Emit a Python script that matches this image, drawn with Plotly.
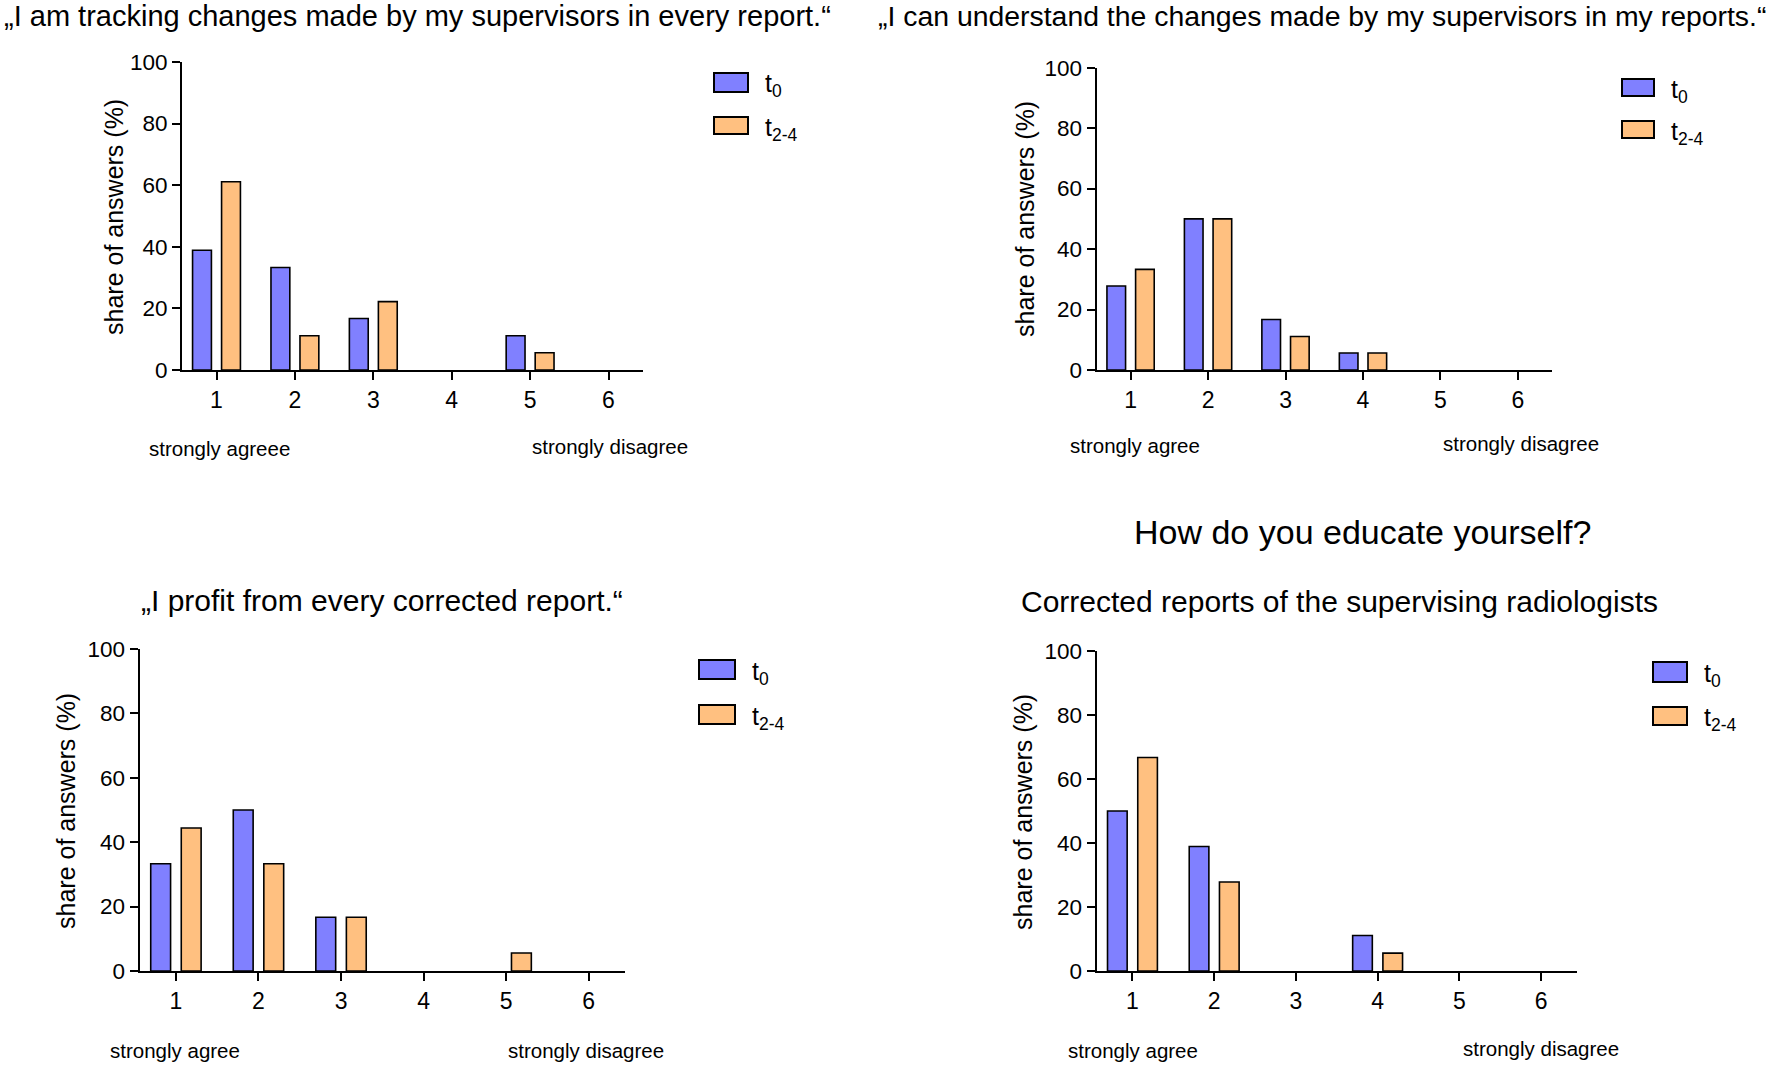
import plotly.graph_objects as go

# ---------------- data ----------------
categories = [1, 2, 3, 4, 5, 6]
y_ticks = [0, 20, 40, 60, 80, 100]
series_names = ["t<sub>0</sub>", "t<sub>2-4</sub>"]
series_colors = ["#8080FF", "#FFC080"]

titles = [
    "„I am tracking changes made by my supervisors in every report.“",
    "„I can understand the changes made by my supervisors in my reports.“",
    "„I profit from every corrected report.“",
    "Corrected reports of the supervising radiologists",
]
super_title = "How do you educate yourself?"
y_title = "share of answers (%)"
left_labels = ["strongly agreee", "strongly agree", "strongly agree", "strongly agree"]
right_label = "strongly disagree"

t0_tracking = [38.9, 33.3, 16.7, 0, 11.1, 0]
t24_tracking = [61.1, 11.1, 22.2, 0, 5.6, 0]
t0_understand = [27.8, 50.0, 16.7, 5.6, 0, 0]
t24_understand = [33.3, 50.0, 11.1, 5.6, 0, 0]
t0_profit = [33.3, 50.0, 16.7, 0, 0, 0]
t24_profit = [44.4, 33.3, 16.7, 0, 5.6, 0]
t0_corrected = [50.0, 38.9, 0, 11.1, 0, 0]
t24_corrected = [66.7, 27.8, 0, 5.6, 0, 0]

panel_data = [
    (t0_tracking, t24_tracking),
    (t0_understand, t24_understand),
    (t0_profit, t24_profit),
    (t0_corrected, t24_corrected),
]

# ---------------- layout (pixel positions) ----------------
W, H = 1769, 1066
FONT = "Liberation Sans, Arial, Helvetica, sans-serif"


def px(x):
    return x / W


def py(y):
    return 1 - y / H


panels = [
    dict(ax=(182, 643), ay=(62, 370), title=(417, 16), tsize=29, ytitle=(114, 217),
         left=(147, 448), right=(530, 446), leg=(714, 748, 73, 92, 117, 134)),
    dict(ax=(1096.5, 1552), ay=(67.7, 370), title=(1322, 16), tsize=28.4, ytitle=(1025, 219),
         left=(1068, 445), right=(1441, 443), leg=(1622, 1654, 79, 96, 121, 138)),
    dict(ax=(139.6, 625), ay=(649, 971), title=(382, 600), tsize=30, ytitle=(66, 811),
         left=(108, 1050), right=(506, 1050), leg=(699, 735, 660, 679, 705, 724)),
    dict(ax=(1096.5, 1577), ay=(651, 971), title=(1339, 601), tsize=30, ytitle=(1023, 812),
         left=(1066, 1050), right=(1461, 1048), leg=(1653, 1687, 662, 682, 707, 725)),
]

fig = go.Figure()
annotations = []
shapes = []
layout_axes = {}

for i, (p, (s0, s1)) in enumerate(zip(panels, panel_data)):
    n = "" if i == 0 else str(i + 1)
    xa, ya = "x" + n, "y" + n
    for name, vals, col in zip(series_names, (s0, s1), series_colors):
        fig.add_trace(go.Bar(
            x=categories, y=vals, name=name, xaxis=xa, yaxis=ya,
            marker=dict(color=col, line=dict(
                color="black", width=[1.6 if v > 0 else 0 for v in vals])),
            showlegend=False, hoverinfo="x+y",
        ))
    layout_axes["xaxis" + n] = dict(
        domain=[px(p["ax"][0]), px(p["ax"][1])], anchor=ya,
        range=[0.56, 6.44], tickmode="array", tickvals=categories,
        ticks="outside", ticklen=8, tickwidth=2, tickcolor="black",
        showline=True, linecolor="black", linewidth=2,
        showgrid=False, zeroline=False, fixedrange=True, automargin=False,
        tickfont=dict(family=FONT, size=23, color="black"),
    )
    layout_axes["yaxis" + n] = dict(
        domain=[py(p["ay"][1]), py(p["ay"][0])], anchor=xa,
        range=[0, 100], tickmode="array", tickvals=y_ticks,
        ticks="outside", ticklen=8, tickwidth=2, tickcolor="black",
        showline=True, linecolor="black", linewidth=2,
        showgrid=False, zeroline=False, fixedrange=True, automargin=False,
        tickfont=dict(family=FONT, size=22.5, color="black"),
    )
    # panel title
    annotations.append(dict(
        text=titles[i], x=px(p["title"][0]), y=py(p["title"][1]),
        xref="paper", yref="paper", xanchor="center", yanchor="middle",
        showarrow=False, font=dict(family=FONT, size=p["tsize"], color="black")))
    # y-axis title
    annotations.append(dict(
        text=y_title, x=px(p["ytitle"][0]), y=py(p["ytitle"][1]),
        xref="paper", yref="paper", xanchor="center", yanchor="middle",
        textangle=-90, showarrow=False,
        font=dict(family=FONT, size=25, color="black")))
    # scale end labels
    annotations.append(dict(
        text=left_labels[i], x=px(p["left"][0]), y=py(p["left"][1]),
        xref="paper", yref="paper", xanchor="left", yanchor="middle",
        showarrow=False, font=dict(family=FONT, size=20.5, color="black")))
    annotations.append(dict(
        text=right_label, x=px(p["right"][0]), y=py(p["right"][1]),
        xref="paper", yref="paper", xanchor="left", yanchor="middle",
        showarrow=False, font=dict(family=FONT, size=20.5, color="black")))
    # legend
    lx0, lx1, a0, a1, b0, b1 = p["leg"]
    for (yy0, yy1), name, col in zip(((a0, a1), (b0, b1)), series_names, series_colors):
        shapes.append(dict(
            type="rect", xref="paper", yref="paper",
            x0=px(lx0), x1=px(lx1), y0=py(yy1), y1=py(yy0),
            fillcolor=col, line=dict(color="black", width=2)))
        annotations.append(dict(
            text=name, x=px(lx1 + 15), y=py((yy0 + yy1) / 2 + 3),
            xref="paper", yref="paper", xanchor="left", yanchor="middle",
            showarrow=False, font=dict(family=FONT, size=25, color="black")))

annotations.append(dict(
    text=super_title, x=px(1362), y=py(532),
    xref="paper", yref="paper", xanchor="center", yanchor="middle",
    showarrow=False, font=dict(family=FONT, size=34, color="black")))

fig.update_layout(
    width=W, height=H, autosize=False,
    margin=dict(l=0, r=0, t=0, b=0, pad=0, autoexpand=False),
    paper_bgcolor="white", plot_bgcolor="white",
    barmode="group", bargap=0.26, bargroupgap=0.35,
    annotations=annotations, shapes=shapes,
    font=dict(family=FONT, color="black"),
    showlegend=False,
    **layout_axes,
)

fig.write_html(
    "out.html",
    config={"displayModeBar": False},
    post_script="document.body.style.margin='0';document.body.style.overflow='hidden';",
)
